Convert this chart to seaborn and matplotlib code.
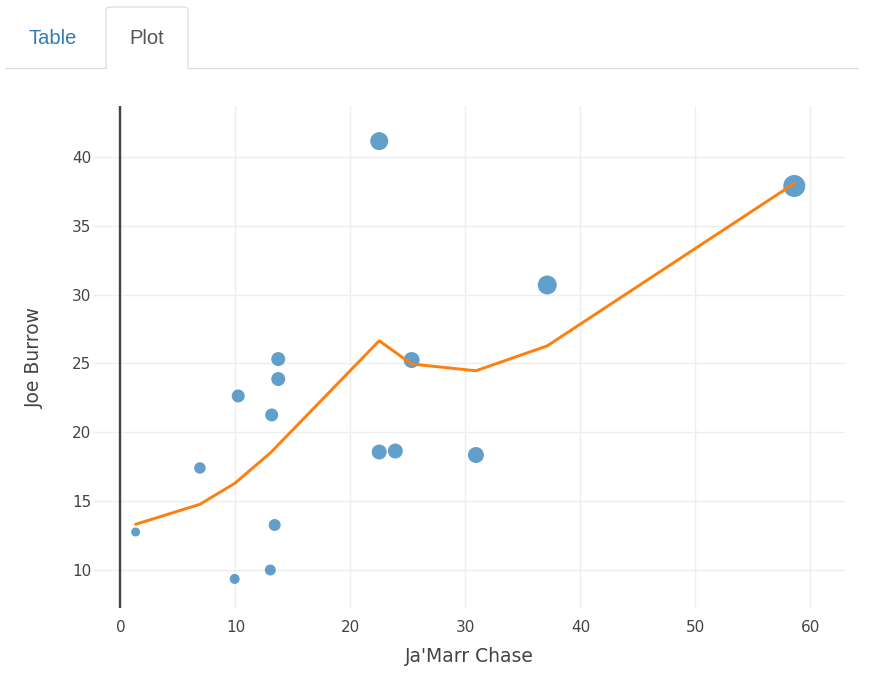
import matplotlib
matplotlib.use("Agg")
import matplotlib.pyplot as plt
import seaborn as sns
import pandas as pd
import numpy as np
from matplotlib.patches import FancyBboxPatch

# ---- data ----
chase = [1.32, 6.91, 9.93, 10.24, 13.03, 13.15, 13.41, 13.72, 13.72,
         22.50, 22.50, 23.90, 25.32, 30.91, 37.11, 58.59]
burrow = [12.76, 17.41, 9.35, 22.64, 10.00, 21.26, 13.27, 25.32, 23.87,
          41.15, 18.57, 18.64, 25.25, 18.35, 30.70, 37.89]
point_diam = [9, 11.5, 10, 13, 11, 13, 12, 14, 14,
              18, 15, 15, 16, 16, 19, 22]

fit_x = [1.32, 6.91, 9.93, 13.03, 22.50, 25.32, 30.91, 37.11, 58.59]
fit_y = [13.32, 14.77, 16.29, 18.50, 26.65, 24.96, 24.47, 26.28, 38.08]

x_ticks = [0, 10, 20, 30, 40, 50, 60]
y_ticks = [10, 15, 20, 25, 30, 35, 40]
tab_labels = ["Table", "Plot"]

W, H = 870, 676
DPI = 100
sns.set_theme(style="white")
plt.rcParams['font.family'] = ['DejaVu Sans']

fig = plt.figure(figsize=(W / DPI, H / DPI), dpi=DPI)

# overlay for tabs
ov = fig.add_axes([0, 0, 1, 1])
ov.set_xlim(0, W)
ov.set_ylim(H, 0)
ov.axis("off")
ov.plot([5, 106], [68, 68], color="#dddddd", lw=0.9)
ov.plot([188, 858], [68, 68], color="#dddddd", lw=0.9)
tab = FancyBboxPatch((106, 7), 82, 70, boxstyle="round,pad=0,rounding_size=4",
                     facecolor="white", edgecolor="#dddddd", lw=0.9)
ov.add_patch(tab)
ov.add_patch(plt.Rectangle((105, 69), 84, 12, facecolor="white", edgecolor="none"))
ov.text(53, 38, tab_labels[0], color="#337ab7", fontsize=14.5,
        family="Liberation Sans", ha="center", va="center")
ov.text(147, 38, tab_labels[1], color="#555555", fontsize=14.5,
        family="Liberation Sans", ha="center", va="center")

# main axes
left, right, top, bottom = 94, 845, 106, 608
ax = fig.add_axes([left / W, 1 - bottom / H, (right - left) / W, (bottom - top) / H])

df = pd.DataFrame({"chase": chase, "burrow": burrow,
                   "area": [(d * 0.72) ** 2 for d in point_diam]})
fit = pd.DataFrame({"x": fit_x, "y": fit_y})

sns.scatterplot(data=df, x="chase", y="burrow", size="area",
                sizes=(df["area"].min(), df["area"].max()),
                color="#1f77b4", alpha=0.7, linewidth=0, legend=False,
                ax=ax, zorder=3)
sns.lineplot(data=fit, x="x", y="y", color="#ff7f0e", lw=2.1,
             estimator=None, sort=False, ax=ax, zorder=4)

ax.set_xlim(-2.3, 63.0)
ax.set_ylim(7.24, 43.7)
ax.set_xticks(x_ticks)
ax.set_yticks(y_ticks)
ax.grid(True, color="#eeeeee", lw=1)
ax.set_axisbelow(True)
for s in ax.spines.values():
    s.set_visible(False)
ax.axvline(0, color="#444444", lw=1.7, zorder=2)
ax.tick_params(axis="both", length=0, labelsize=11, labelcolor="#444444")
ax.tick_params(axis="x", pad=9)
ax.tick_params(axis="y", pad=2)
ax.set_xlabel("Ja'Marr Chase", fontsize=13.5, color="#444444", labelpad=8)
ax.set_ylabel("Joe Burrow", fontsize=13.5, color="#444444", labelpad=20)

fig.savefig("out.png", dpi=DPI)
